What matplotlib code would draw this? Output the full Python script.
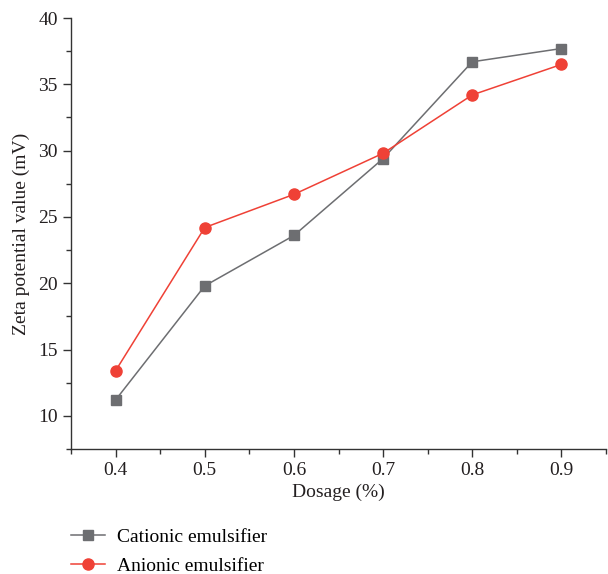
import numpy as np
import matplotlib
matplotlib.use('Agg')
import matplotlib.pyplot as plt
from matplotlib.ticker import MultipleLocator
from matplotlib.lines import Line2D

plt.rcParams['font.family'] = ['Liberation Serif', 'DejaVu Serif']

dosage = [0.4, 0.5, 0.6, 0.7, 0.8, 0.9]
cationic = [11.2, 19.8, 23.6, 29.4, 36.7, 37.7]
anionic = [13.4, 24.2, 26.7, 29.8, 34.2, 36.5]

gray = '#6d6e71'
red = '#ef4136'

fig = plt.figure(figsize=(6.08, 5.74), dpi=100)
ax = fig.add_axes([0.1168, 0.2178, 0.8799, 0.7508])

ax.plot(dosage, cationic, color=gray, marker='s', markersize=7, linewidth=1.1)
ax.plot(dosage, anionic, color=red, marker='o', markersize=8, linewidth=1.1)

ax.set_xlim(0.35, 0.95)
ax.set_ylim(7.5, 40)
ax.xaxis.set_minor_locator(MultipleLocator(0.05))
ax.yaxis.set_major_locator(MultipleLocator(5))
ax.yaxis.set_minor_locator(MultipleLocator(2.5))
ax.set_xticks(dosage)
ax.set_xticklabels(['0.4', '0.5', '0.6', '0.7', '0.8', '0.9'])

for s in ['top', 'right']:
    ax.spines[s].set_visible(False)
for s in ['left', 'bottom']:
    ax.spines[s].set_color('#333333')
    ax.spines[s].set_linewidth(1.0)

ax.tick_params(which='major', direction='out', length=6, width=1, colors='#333333',
               labelsize=14, labelcolor='#231f20')
ax.tick_params(which='minor', direction='out', length=3.5, width=1, colors='#333333')

ax.set_xlabel('Dosage (%)', fontsize=14, color='#231f20', labelpad=3)
ax.set_ylabel('Zeta potential value (mV)', fontsize=14, color='#231f20', labelpad=6)

handles = [Line2D([], [], color=gray, marker='s', markersize=7, linewidth=1.1),
           Line2D([], [], color=red, marker='o', markersize=8, linewidth=1.1)]
fig.legend(handles, ['Cationic emulsifier', 'Anionic emulsifier'],
           loc='upper left', bbox_to_anchor=(0.1168, 0.079), frameon=False,
           borderpad=0, borderaxespad=0,
           fontsize=14, handlelength=1.75, handletextpad=0.6, labelspacing=0.55)

fig.savefig('out.png', dpi=100)
